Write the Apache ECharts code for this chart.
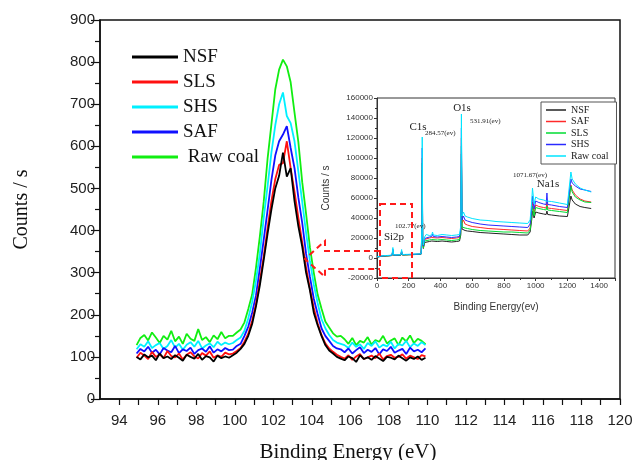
<!DOCTYPE html>
<html>
<head>
<meta charset="utf-8">
<script src="https://cdn.jsdelivr.net/npm/echarts@6/dist/echarts.min.js"></script>
<style>
  html, body { margin: 0; padding: 0; background: #fff; }
  #chart { width: 635px; height: 460px; }
</style>
</head>
<body>
<div id="chart"></div>
<script>
// Si2p high resolution scan (main plot)
const energies = [
  94.9, 95.1, 95.3, 95.5, 95.7, 95.9, 96.1, 96.3, 96.5, 96.7, 96.9, 97.1, 97.3, 97.5, 97.7, 97.9,
  98.1, 98.3, 98.5, 98.7, 98.9, 99.1, 99.3, 99.5, 99.7,
  99.9, 100.1, 100.3, 100.5, 100.7, 100.9, 101.1, 101.3, 101.5, 101.7, 101.9, 102.1, 102.3, 102.5,
  102.7, 102.9, 103.1, 103.3, 103.5, 103.7, 103.9, 104.1, 104.3, 104.5, 104.7, 104.9, 105.1, 105.3, 105.5,
  105.7, 105.9, 106.1, 106.3, 106.5, 106.7, 106.9, 107.1, 107.3, 107.5, 107.7, 107.9, 108.1, 108.3,
  108.5, 108.7, 108.9, 109.1, 109.3, 109.5, 109.7, 109.9
]
const rawCoal = [
  128, 145, 152, 139, 158, 146, 133, 150, 141, 162, 137, 148, 131, 155, 143, 138, 166, 140, 147, 135,
  151, 142, 159, 144, 150,
  150, 158, 165, 182, 214, 248, 312, 386, 468, 570, 652, 735, 782, 806,
  790, 752, 680, 610, 515, 440, 360, 300, 248, 215, 184, 170, 156, 148, 150,
  142, 131, 145, 128, 138, 134, 147, 129, 140, 136, 150, 132, 139, 144, 128, 146, 137, 151, 133, 143, 138, 130
]
const shs = [
  118, 130, 124, 137, 121, 128, 133, 119, 126, 140, 122, 131, 117, 129, 135, 124, 138, 120, 127, 132,
  123, 136, 128, 134, 130,
  133, 140, 146, 162, 192, 230, 282, 345, 430, 505, 585, 650, 700, 728,
  672, 655, 612, 540, 468, 395, 328, 272, 228, 190, 168, 152, 140, 134, 131,
  128, 121, 134, 124, 130, 119, 133, 126, 137, 122, 129, 125, 136, 120, 131, 127, 138, 123, 132, 126, 135, 128
]
const saf = [
  108, 119, 113, 124, 110, 117, 106, 121, 115, 111, 126, 109, 118, 114, 122, 107, 116, 120, 112, 125,
  110, 118, 113, 121, 116,
  117, 126, 131, 150, 172, 205, 246, 310, 378, 448, 520, 578, 612, 628,
  648, 596, 548, 478, 418, 345, 290, 238, 202, 168, 150, 138, 126, 120, 118,
  111, 120, 108, 116, 123, 109, 117, 112, 121, 106, 118, 114, 124, 110, 115, 119, 107, 122, 113, 117, 111, 120
]
const sls = [
  98, 110, 103, 95, 112, 100, 106, 97, 114, 102, 99, 108, 94, 105, 111, 101, 96, 109, 103, 113,
  98, 104, 100, 110, 106,
  108, 114, 121, 136, 155, 186, 226, 280, 338, 405, 470, 522, 556, 560,
  612, 548, 492, 430, 372, 312, 262, 216, 180, 152, 132, 120, 112, 105, 100,
  96, 104, 93, 101, 107, 95, 99, 103, 97, 108, 94, 102, 105, 98, 100, 106, 96, 103, 99, 95, 104, 101
]
const nsf = [
  100, 94, 106, 99, 103, 92, 108, 97, 101, 95, 104, 98, 91, 105, 100, 96, 107, 93, 102, 99,
  89, 103, 97, 101, 98,
  104, 110, 119, 131, 150, 178, 220, 270, 330, 392, 450, 500, 530, 585,
  528, 548, 470, 410, 362, 300, 258, 205, 175, 150, 128, 115, 108, 100, 96,
  92, 101, 97, 88, 104, 95, 99, 93, 102, 96, 90, 100, 98, 94, 103, 97, 91, 99, 95, 101, 93, 98
]
const xTickLabels = [94, 96, 98, 100, 102, 104, 106, 108, 110, 112, 114, 116, 118, 120]
const xTicks = [94, 95, 96, 97, 98, 99, 100, 101, 102, 103, 104, 105, 106, 107, 108, 109, 110,
  111, 112, 113, 114, 115, 116, 117, 118, 119, 120]

// survey scan (inset)
const surveyE = [
  0, 20, 40, 60, 80, 95, 100, 105, 120, 150, 155, 160, 180, 200, 230, 260, 278, 283, 285, 288, 292,
  300, 310, 330, 345, 350, 355, 380, 410, 440, 470, 500, 520, 528, 532, 536, 545, 555, 570,
  600, 650, 700, 750, 800, 850, 900, 950, 965, 975, 980, 990, 1000, 1020, 1050, 1066, 1071, 1076,
  1100, 1150, 1200, 1212, 1222, 1230, 1250, 1280, 1310, 1350
]
const surveyRaw = [
  1200, 2000, 2300, 2500, 2700, 3000, 10500, 3200, 3100, 3400, 8500, 3500, 3600, 3700, 3900, 4100, 4300, 30000, 121000, 22000, 13000,
  21000, 23500, 22500, 23000, 26000, 23000, 22500, 23500, 23000, 22500, 23000, 23500, 32000, 144000, 42000, 46000, 42000, 41000,
  39500, 38000, 37500, 36500, 36000, 35500, 35000, 34500, 38000, 56000, 70000, 54000, 61000, 59000, 58000, 57000, 59000, 57000,
  56500, 55000, 53500, 55000, 86000, 79000, 74000, 70000, 68000, 66000
]
const surveySHS = [
  1000, 1800, 2100, 2300, 2500, 2800, 9000, 3000, 2900, 3200, 7000, 3300, 3400, 3500, 3700, 3900, 4100, 27000, 110000, 20000, 12000,
  19500, 21500, 21000, 21500, 24000, 21500, 21000, 21500, 21000, 20500, 21000, 21500, 29000, 130000, 38000, 42000, 38000, 37000,
  35500, 34000, 33000, 32500, 32000, 31500, 31000, 30500, 34000, 50000, 62000, 49000, 57000, 55500, 54000, 53500, 65000, 53500,
  53000, 51500, 50500, 52000, 79000, 75000, 72000, 69000, 68000, 66500
]
const surveySAF = [
  900, 1700, 2000, 2200, 2400, 2700, 8000, 2900, 2800, 3100, 6500, 3200, 3300, 3400, 3600, 3800, 4000, 25000, 100000, 18000, 11000,
  18500, 20500, 20000, 20500, 22500, 20500, 20000, 20500, 20000, 19500, 20000, 20500, 27000, 120000, 35000, 38000, 34000, 33000,
  31500, 30500, 29500, 29000, 28500, 28000, 27500, 27000, 30000, 45000, 56000, 45000, 53000, 51500, 50500, 50000, 56000, 50000,
  49500, 48500, 47500, 49000, 73000, 68000, 63000, 59000, 57000, 56000
]
const surveySLS = [
  800, 1600, 1900, 2100, 2300, 2600, 7500, 2800, 2700, 3000, 6000, 3100, 3200, 3300, 3500, 3700, 3900, 23000, 95000, 17000, 10000,
  17000, 18500, 18000, 18500, 20500, 18500, 18000, 18500, 18000, 17500, 18000, 18500, 25000, 112000, 31000, 33000, 30000, 29500,
  28500, 27500, 27000, 26500, 26000, 26000, 25500, 25000, 28000, 42000, 52000, 42000, 50500, 49500, 48500, 48000, 52000, 48000,
  47500, 46500, 45500, 47000, 72000, 66000, 61000, 58000, 56000, 55500
]
const surveyNSF = [
  700, 1500, 1800, 2000, 2200, 2500, 7000, 2700, 2600, 2900, 5500, 3000, 3100, 3200, 3400, 3600, 3800, 21000, 88000, 16000, 9500,
  15500, 17000, 16500, 17000, 19000, 17000, 16500, 17000, 16500, 16000, 16500, 17000, 23000, 104000, 29000, 30000, 27500, 27000,
  26500, 25500, 25000, 24500, 24000, 23500, 23000, 23000, 26000, 38000, 47000, 40000, 46000, 45000, 44000, 43500, 47000, 43500,
  43000, 42000, 41500, 43000, 62000, 58000, 54000, 51500, 50500, 49500
]

const serif = 'Liberation Serif'
const sans = 'Liberation Sans'

function pairs (xs, ys) {
  return xs.map((x, i) => [x, ys[i]])
}

function mainLine (name, color, ys) {
  return {
    name: name,
    type: 'line',
    xAxisIndex: 0,
    yAxisIndex: 0,
    showSymbol: false,
    symbol: 'none',
    lineStyle: { color: color, width: 1.8 },
    itemStyle: { color: color },
    data: pairs(energies, ys),
  }
}

function surveyLine (name, color, ys) {
  return {
    name: name + ' survey',
    type: 'line',
    xAxisIndex: 1,
    yAxisIndex: 1,
    showSymbol: false,
    symbol: 'none',
    lineStyle: { color: color, width: 1 },
    itemStyle: { color: color },
    data: pairs(surveyE, ys),
  }
}

function note (text, x, y, size, align) {
  return {
    type: 'text',
    x: x,
    y: y,
    z: 100,
    style: {
      text: text,
      fontFamily: serif,
      fontSize: size,
      fill: '#222',
      align: align || 'center',
      verticalAlign: 'middle',
    },
  }
}

const chart = echarts.init(document.getElementById('chart'), null, { renderer: 'canvas' })

chart.setOption({
  animation: false,
  backgroundColor: '#fff',
  grid: [
    { left: 100, right: 15, top: 20, bottom: 61, outerBoundsMode: 'none', show: true, borderColor: '#111', borderWidth: 1.5 },
    { left: 377, right: 20, top: 98, bottom: 182, outerBoundsMode: 'none', show: true, borderColor: '#333', borderWidth: 1, backgroundColor: '#fff' },
  ],
  legend: [
    {
      orient: 'vertical',
      left: 127,
      top: 42,
      icon: 'rect',
      itemWidth: 46,
      itemHeight: 3,
      itemGap: 5,
      data: ['NSF', 'SLS', 'SHS', 'SAF', 'Raw coal'],
      formatter: name => (name === 'Raw coal' ? ' Raw coal' : name),
      textStyle: { fontFamily: serif, fontSize: 19, color: '#111', lineHeight: 20 },
    },
    {
      orient: 'vertical',
      left: 541,
      top: 102,
      icon: 'rect',
      itemWidth: 20,
      itemHeight: 1.5,
      itemGap: 1.5,
      padding: [3, 8, 3, 5],
      borderColor: '#555',
      borderWidth: 1,
      backgroundColor: '#fff',
      z: 20,
      data: ['NSF survey', 'SAF survey', 'SLS survey', 'SHS survey', 'Raw coal survey'],
      formatter: name => name.replace(' survey', ''),
      textStyle: { fontFamily: serif, fontSize: 10, color: '#222', lineHeight: 10 },
    },
  ],
  xAxis: [
    {
      gridIndex: 0,
      type: 'value',
      min: 93,
      max: 120,
      name: 'Binding Energy (eV)',
      nameLocation: 'middle',
      nameGap: 43,
      nameTextStyle: { fontFamily: serif, fontSize: 21, color: '#111', padding: [0, 24, 0, 0] },
      splitLine: { show: false },
      axisLine: { onZero: false, lineStyle: { color: '#111', width: 1.5 } },
      axisTick: { customValues: xTicks, length: 6, lineStyle: { color: '#111', width: 1.2 } },
      axisLabel: { customValues: xTickLabels, fontFamily: sans, fontSize: 15, color: '#222', margin: 14 },
    },
    {
      gridIndex: 1,
      type: 'value',
      min: 0,
      max: 1500,
      interval: 200,
      name: 'Binding Energy(ev)',
      nameLocation: 'middle',
      nameGap: 24,
      nameTextStyle: { fontFamily: sans, fontSize: 10, color: '#333' },
      splitLine: { show: false },
      axisLine: { onZero: false, lineStyle: { color: '#333', width: 1 } },
      axisTick: { length: 3, lineStyle: { color: '#333' } },
      minorTick: { show: true, splitNumber: 2, length: 2, lineStyle: { color: '#333' } },
      axisLabel: { fontFamily: sans, fontSize: 8, color: '#333', margin: 4, showMaxLabel: false, formatter: v => String(v) },
    },
  ],
  yAxis: [
    {
      gridIndex: 0,
      type: 'value',
      min: 0,
      max: 900,
      interval: 100,
      name: 'Counts / s',
      nameLocation: 'middle',
      nameGap: 68,
      nameTextStyle: { fontFamily: serif, fontSize: 20, color: '#111' },
      splitLine: { show: false },
      axisLine: { lineStyle: { color: '#111', width: 1.5 } },
      axisTick: { length: 9, lineStyle: { color: '#111', width: 1.2 } },
      minorTick: { show: true, splitNumber: 2, length: 5, lineStyle: { color: '#111', width: 1.2 } },
      axisLabel: { fontFamily: sans, fontSize: 15, color: '#222', margin: 5 },
    },
    {
      gridIndex: 1,
      type: 'value',
      min: -20000,
      max: 160000,
      interval: 20000,
      name: 'Counts / s',
      nameLocation: 'middle',
      nameGap: 46,
      nameTextStyle: { fontFamily: sans, fontSize: 10, color: '#333' },
      splitLine: { show: false },
      axisLine: { onZero: false, lineStyle: { color: '#333', width: 1 } },
      axisTick: { length: 3, lineStyle: { color: '#333' } },
      minorTick: { show: true, splitNumber: 2, length: 2, lineStyle: { color: '#333' } },
      axisLabel: { fontFamily: sans, fontSize: 8, color: '#333', margin: 4, formatter: v => String(v) },
    },
  ],
  series: [
    mainLine('Raw coal', '#11ee11', rawCoal),
    mainLine('SHS', '#00f0ff', shs),
    mainLine('SAF', '#1010ff', saf),
    mainLine('SLS', '#ff1010', sls),
    mainLine('NSF', '#000000', nsf),
    surveyLine('NSF', '#222222', surveyNSF),
    surveyLine('SAF', '#ff2a2a', surveySAF),
    surveyLine('SLS', '#00dd33', surveySLS),
    surveyLine('SHS', '#2a2aff', surveySHS),
    surveyLine('Raw coal', '#00e5ff', surveyRaw),
  ],
  graphic: [
    note('C1s', 418, 127, 11),
    note('284.57(ev)', 425, 133, 7, 'left'),
    note('O1s', 462, 108, 11),
    note('531.91(ev)', 470, 121, 7, 'left'),
    note('1071.67(ev)', 530, 175, 7),
    note('Na1s', 548, 184, 11),
    note('Si2p', 394, 237, 11),
    note('102.77(ev)', 395, 226, 7, 'left'),
    {
      type: 'rect',
      z: 100,
      shape: { x: 380, y: 204, width: 32, height: 74 },
      style: { fill: 'none', stroke: '#ff1a1a', lineWidth: 2, lineDash: [6, 4] },
    },
    {
      type: 'polyline',
      z: 100,
      shape: { points: [[380, 251], [325, 251], [325, 241], [305, 259], [325, 277], [325, 269], [380, 269]] },
      style: { fill: 'none', stroke: '#ff1a1a', lineWidth: 2, lineDash: [6, 4] },
    },
  ],
})
</script>
</body>
</html>
